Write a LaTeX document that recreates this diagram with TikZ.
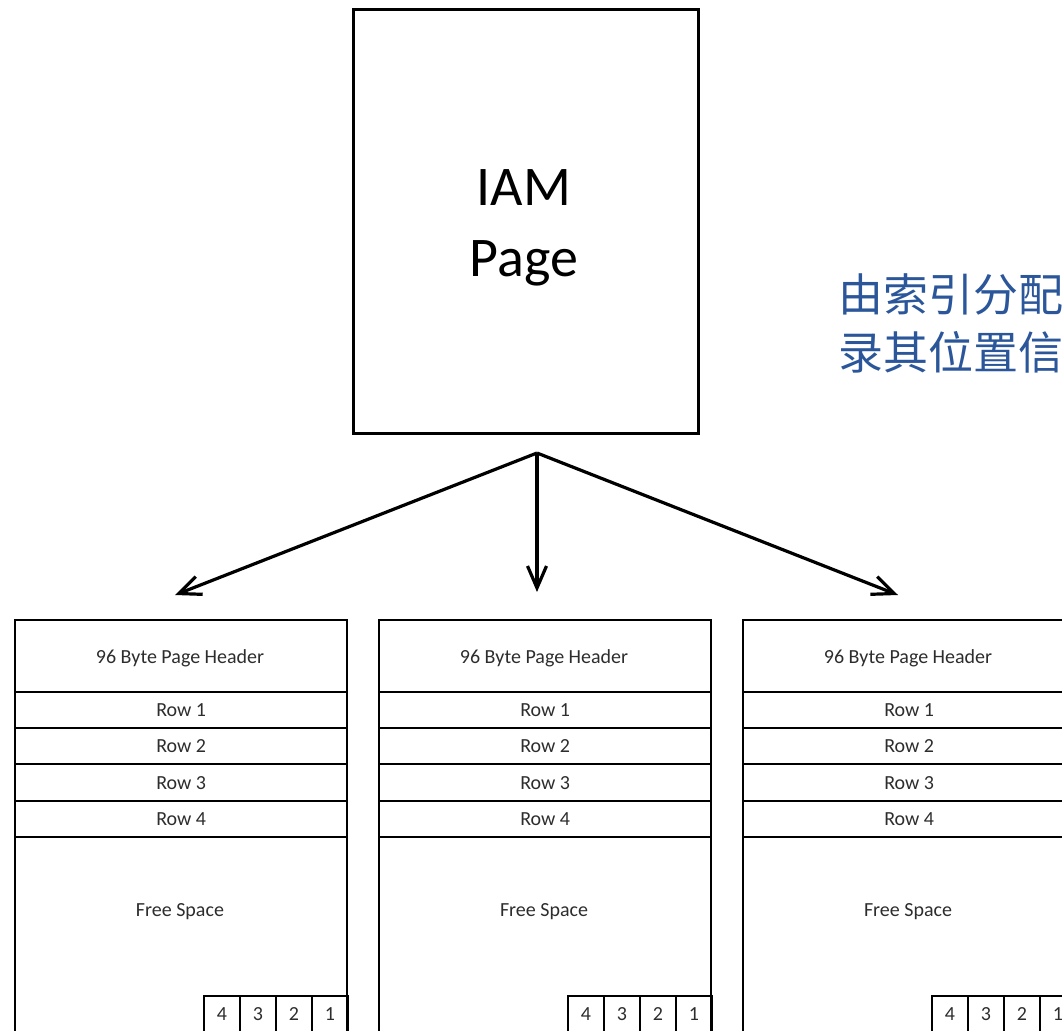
\documentclass[tikz,border=0pt]{standalone}
\usepackage{fontspec}
\setmainfont{Carlito}
\newfontfamily\cjk{Noto Sans CJK SC}
\usetikzlibrary{arrows.meta}
\definecolor{noteblue}{RGB}{43,87,154}
\definecolor{labelgray}{RGB}{45,45,45}
\begin{document}
\begin{tikzpicture}[x=1pt,y=-1pt,
  seg/.style={draw, line width=2.4pt, minimum width=332pt, inner sep=0pt,
              anchor=north west},
  lbl/.style={text=labelgray, inner sep=0pt, font=\fontsize{20}{24}\selectfont},
  slot/.style={draw, line width=1.9pt, minimum width=36pt, minimum height=37pt,
               inner sep=0pt, anchor=north west, text=labelgray,
               font=\fontsize{20}{24}\selectfont},
  arr/.style={line width=3.2pt, -{Straight Barb[length=22pt, width=19pt, line width=3.2pt]}}]
  \useasboundingbox (0,0) rectangle (1062,1030);
  \clip (0,0) rectangle (1062,1030);

  % IAM page
  \node[draw, line width=3pt, minimum width=345pt, minimum height=424pt,
        anchor=north west, inner sep=0pt] (iam) at (352,8) {};
  \node[inner sep=0pt, align=center, font=\fontsize{56}{71}\selectfont]
        (iamtext) at (524,228) {IAM\\Page};

  % note text
  \node[anchor=west, inner sep=0pt, text=noteblue, align=left,
        font=\cjk\fontsize{45}{58}\selectfont] (note) at (838,323)
        {由索引分配\\录其位置信};

  % data pages
  \foreach \n/\xl in {1/14, 2/378, 3/742} {
    \node[seg, minimum height=72pt] (h\n) at (\xl,619) {};
    \node[lbl] (ht\n) at (\xl+166,658) {96 Byte Page Header};
    \foreach \r/\y/\hh in {1/691/36, 2/727/36, 3/763/37, 4/800/36} {
      \node[seg, minimum height=\hh pt] (r\n-\r) at (\xl,\y) {};
      \node[lbl] (rt\n-\r) at (r\n-\r.center) {Row \r};
    }
    \node[seg, minimum height=210pt] (f\n) at (\xl,836) {};
    \node[lbl] (ft\n) at (\xl+166,912) {Free Space};
    \foreach \k/\d in {0/4, 1/3, 2/2, 3/1} {
      \node[slot] (s\n-\d) at (\xl+189+36*\k,995) {\d};
    }
  }

  % pointers from the IAM page
  \coordinate (fork) at (537,453);
  \coordinate (t1) at (175,595);
  \coordinate (t2) at (537,592);
  \coordinate (t3) at (898,595);
  \draw[arr] (fork) -- (t1);
  \draw[arr] (fork) -- (t2);
  \draw[arr] (fork) -- (t3);
\end{tikzpicture}
\end{document}
